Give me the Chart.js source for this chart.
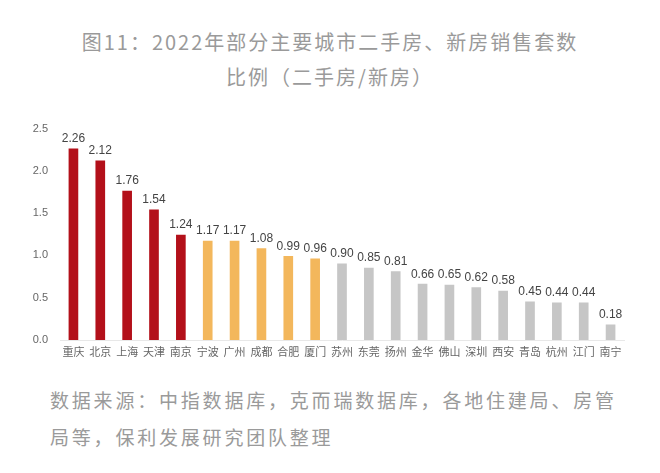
<!DOCTYPE html>
<html>
<head>
<meta charset="utf-8">
<script src="https://cdn.jsdelivr.net/npm/chart.js@4/dist/chart.umd.min.js"></script>
<style>
  body { margin: 0; background: #fff; }
  #wrap { position: relative; width: 660px; height: 473px; overflow: hidden;
          font-family: "Noto Sans CJK SC", "Noto Sans", sans-serif; color: #9a9a9a; }
  .title { position: absolute; left: 0; width: 660px; text-align: center;
           font-size: 20px; line-height: 20px; letter-spacing: 2px; }
  .src { position: absolute; left: 50px; font-size: 19px; line-height: 19px; letter-spacing: 2.8px; }
  #box { position: absolute; left: 0; top: 110px; width: 660px; height: 260px; }
</style>
</head>
<body>
<div id="wrap">
  <div class="title" style="top:32px">图11：2022年部分主要城市二手房、新房销售套数</div>
  <div class="title" style="top:67px">比例（二手房/新房）</div>
  <div id="box"><canvas id="chart"></canvas></div>
  <div class="src" style="top:390px">数据来源：中指数据库，克而瑞数据库，各地住建局、房管</div>
  <div class="src" style="top:427px">局等，保利发展研究团队整理</div>
</div>
<script>
const cities = ["重庆", "北京", "上海", "天津", "南京", "宁波", "广州", "成都", "合肥", "厦门", "苏州",
                "东莞", "扬州", "金华", "佛山", "深圳", "西安", "青岛", "杭州", "江门", "南宁"];
const ratios = [2.26, 2.12, 1.76, 1.54, 1.24, 1.17, 1.17, 1.08, 0.99, 0.96, 0.90,
                0.85, 0.81, 0.66, 0.65, 0.62, 0.58, 0.45, 0.44, 0.44, 0.18];
const yTicks = [0, 0.5, 1.0, 1.5, 2.0, 2.5];

// first five red, next five orange, rest gray
const barColors = ratios.map((v, i) => i < 5 ? "#b3101a" : i < 10 ? "#f3b75c" : "#c6c6c6");

const valueLabels = {
  id: "valueLabels",
  afterDatasetsDraw(chart) {
    const ctx = chart.ctx;
    const meta = chart.getDatasetMeta(0);
    ctx.save();
    ctx.font = "12px 'Liberation Sans', Arial, sans-serif";
    ctx.fillStyle = "#444";
    ctx.textAlign = "center";
    ctx.textBaseline = "bottom";
    meta.data.forEach((bar, i) => {
      ctx.fillText(ratios[i].toFixed(2), bar.x, bar.y - 4);
    });
    ctx.restore();
  }
};

new Chart(document.getElementById("chart"), {
  type: "bar",
  data: {
    labels: cities,
    datasets: [{
      data: ratios,
      backgroundColor: barColors,
      barThickness: 9
    }]
  },
  options: {
    responsive: true,
    maintainAspectRatio: false,
    animation: false,
    layout: { padding: { top: 15, right: 36, left: 0, bottom: 0 } },
    plugins: { legend: { display: false }, tooltip: { enabled: false } },
    scales: {
      x: {
        grid: { display: false, drawTicks: false },
        border: { display: true, color: "#e8e8e8" },
        ticks: { color: "#666", padding: 5, font: { size: 11, family: "'Noto Sans CJK SC'" }, maxRotation: 0, autoSkip: false },
        afterFit(scale) { scale.height = 30; }
      },
      y: {
        min: 0,
        max: 2.5,
        grid: { display: false, drawTicks: false },
        border: { display: false },
        afterBuildTicks(scale) { scale.ticks = yTicks.map(v => ({ value: v })); },
        ticks: {
          color: "#666", padding: 12,
          font: { size: 11, family: "'Liberation Sans', Arial, sans-serif" },
          callback: v => Number(v).toFixed(1)
        },
        afterFit(scale) { scale.width = 60; }
      }
    }
  },
  plugins: [valueLabels]
});
</script>
</body>
</html>
